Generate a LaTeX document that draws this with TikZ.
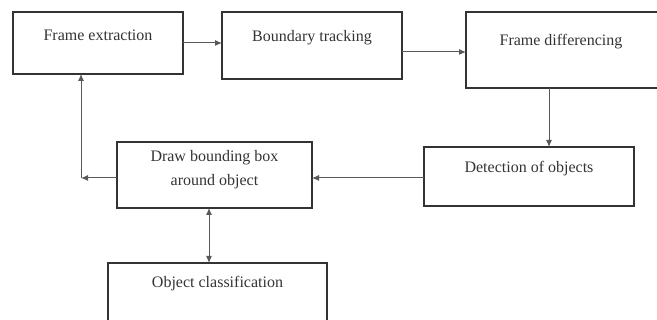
\documentclass[tikz,border=0pt]{standalone}
\usepackage{fontspec}
\setmainfont{Liberation Serif}
\usetikzlibrary{arrows.meta}

\begin{document}
\begin{tikzpicture}[x=1pt, y=1pt]
\tikzset{ >={Latex[length=7pt,width=6pt]}, inner sep=0pt, outer sep=0pt,
  box/.style={draw=black!80, line width=1.6pt, rectangle},
  txt/.style={text=black!80, font=\fontsize{16}{24}\selectfont, align=center},
  arr/.style={draw=black!65, line width=1pt},
}

\useasboundingbox (0,0) rectangle (657,320);

%\draw [lightgray, dashed](0,0) grid [step=20] (657,320);

\node [box, minimum width=170, minimum height=62] (FE) at (98,277)    {};
\node [box, minimum width=180, minimum height=67] (BT) at (312,274.5) {};
\node [box, minimum width=192, minimum height=76] (FD) at (562,270)   {};
\node [box, minimum width=210, minimum height=59] (DO) at (529,143.5) {};
\node [box, minimum width=195, minimum height=66] (BB) at (214.5,145) {};
\node [box, minimum width=219, minimum height=62] (OC) at (217.5,26)  {};

\node [txt] (FE-t) at (98,285)    {Frame extraction};
\node [txt] (BT-t) at (312,282)   {Boundary tracking};
\node [txt] (FD-t) at (561,278)   {Frame differencing};
\node [txt] (DO-t) at (529,151)   {Detection of objects};
\node [txt] (BB-t) at (214.5,150.5) {Draw bounding box\\around object};
\node [txt] (OC-t) at (217.5,36)  {Object classification};

\coordinate (C) at (81,142);

\draw [arr, ->] (FE.east) -- (FE.east -| BT.west);
\draw [arr, ->] ([yshift=-6.5]BT.east) -- ([yshift=-6.5]BT.east -| FD.west);
\draw [arr, ->] ([xshift=-13]FD.south) -- ([xshift=-13]FD.south |- DO.north);
\draw [arr, ->] ([yshift=-1.5]DO.west) -- ([yshift=-1.5]DO.west -| BB.east);
\draw [arr, ->] (BB.west |- C) -- (C);
\draw [arr, ->] (C) -- (C |- FE.south);
\draw [arr, <->] ([xshift=-5.5]BB.south) -- ([xshift=-5.5]BB.south |- OC.north);

\end{tikzpicture}
\end{document}
